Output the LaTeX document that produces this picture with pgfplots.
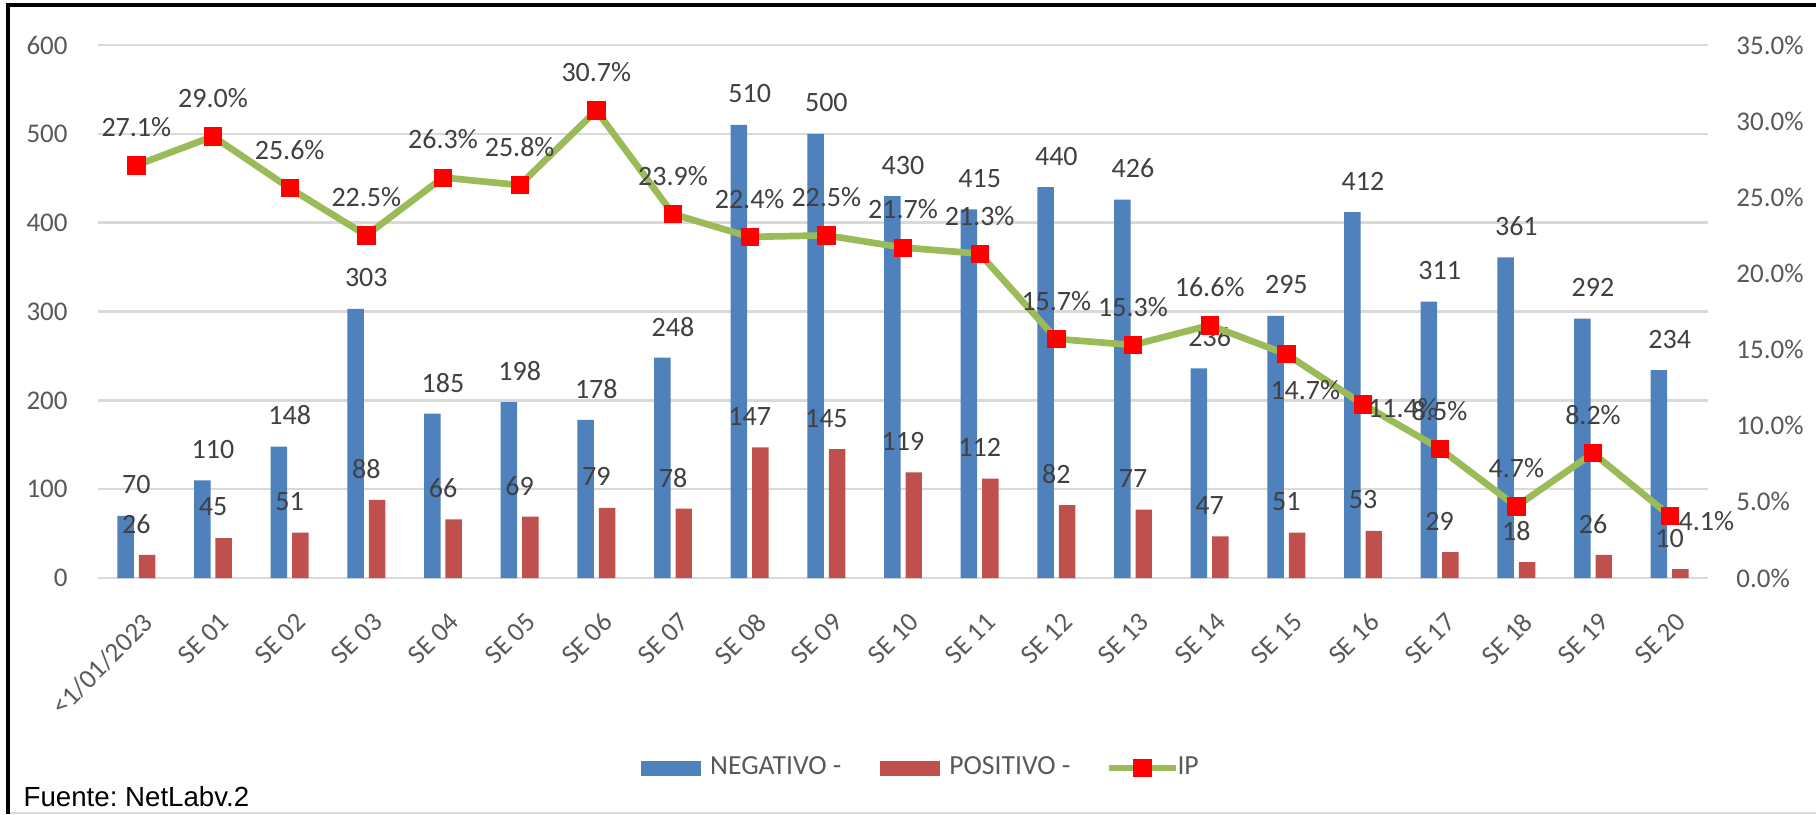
\documentclass[border=0pt]{standalone}
\usepackage{fontspec}
\setmainfont{Carlito}
\newfontfamily\arialfont{Liberation Sans}
\usepackage{pgfplots}
\usepackage{pgfplotstable}
\pgfplotsset{compat=1.18}
\definecolor{negblue}{HTML}{4F81BD}
\definecolor{posred}{HTML}{C0504D}
\definecolor{ipgreen}{HTML}{9BBB59}
\definecolor{ipred}{HTML}{FF0000}
\definecolor{gridgray}{HTML}{D9D9D9}
\definecolor{ticktext}{HTML}{595959}
\definecolor{labeltext}{HTML}{404040}
\pgfplotsset{/pgf/number format/assume math mode=true}
\pgfplotsset{
  neglegend/.style={legend image code/.code={\fill[negblue, draw=none] (0pt,-2.25pt) rectangle (18pt,2.25pt); \path[draw=none, fill=none] (0pt,0pt) -- (18.9pt,0pt);}},
  poslegend/.style={legend image code/.code={\fill[posred, draw=none] (0pt,-2.25pt) rectangle (18pt,2.25pt); \path[draw=none, fill=none] (0pt,0pt) -- (18.9pt,0pt);}},
  iplegend/.style={legend image code/.code={%
    \begin{pgfinterruptboundingbox}\draw[mark repeat=2, mark phase=2, ##1] plot coordinates {(0pt,0pt) (10pt,0pt) (20pt,0pt)};\end{pgfinterruptboundingbox}%
    \path[draw=none, fill=none] (0pt,-2.7pt) rectangle (18.6pt,2.7pt);}},
}
\frenchspacing

\pgfplotstableread{
x neg pos
0 70 26
1 110 45
2 148 51
3 303 88
4 185 66
5 198 69
6 178 79
7 248 78
8 510 147
9 500 145
10 430 119
11 415 112
12 440 82
13 426 77
14 236 47
15 295 51
16 412 53
17 311 29
18 361 18
19 292 26
20 234 10
}\bars

\pgfplotstableread{
x ip dx dy
0 27.1 0 11.4
1 29.0 0 11.4
2 25.6 0 11.4
3 22.5 0 11.4
4 26.3 0 11.4
5 25.8 0 11.4
6 30.7 0 11.4
7 23.9 0 11.4
8 22.4 0 11.4
9 22.5 0 11.4
10 21.7 0 11.4
11 21.3 0 11.4
12 15.7 0 11.4
13 15.3 0 11.4
14 16.6 0 11.4
15 14.7 5.7 -10.8
16 11.4 12 -1.2
17 8.5 0 11.4
18 4.7 0 11.4
19 8.2 0 11.4
20 4.1 11 -1.5
}\iptab

\newcommand{\tickfont}{\fontsize{8.1}{9.7}\selectfont}
\newcommand{\labfont}{\fontsize{8.4}{10}\selectfont}

\begin{document}
\begin{tikzpicture}
\useasboundingbox (-29.4pt,-70.8pt) rectangle (515.4pt,173.4pt);
\fill[white] (-29.4pt,-70.8pt) rectangle (515.4pt,173.4pt);
\draw[gridgray, line width=0.4pt] (-27pt,-70.5pt) -- (515.4pt,-70.5pt);
\draw[line width=1pt] (-27pt,-70.8pt) -- (-27pt,171.9pt) -- (515.4pt,171.9pt);
\node[anchor=west, inner sep=0pt, font=\arialfont\fontsize{8.3}{10}\selectfont] at (-22.5pt,-65.7pt) {Fuente: NetLabv.2};

\begin{axis}[
  at={(0pt,0pt)}, anchor=south west,
  scale only axis, width=483pt, height=159.9pt,
  xmin=-0.5, xmax=20.5, ymin=0, ymax=600,
  axis line style={draw=none},
  major tick length=0pt,
  ytick={0,100,...,600},
  xtick={0,...,20},
  xticklabels={<1/01/2023,SE 01,SE 02,SE 03,SE 04,SE 05,SE 06,SE 07,SE 08,SE 09,SE 10,SE 11,SE 12,SE 13,SE 14,SE 15,SE 16,SE 17,SE 18,SE 19,SE 20},
  ymajorgrids,
  grid style={draw=gridgray, line width=0.75pt},
  tick label style={font=\tickfont, text=ticktext},
  yticklabel style={xshift=-5.6pt},
  xticklabel style={xshift=1.5pt, yshift=-5pt, rotate=45, anchor=north east},
  clip=false,
]
\addplot[ybar, bar width=0.215, bar shift=-0.14, fill=negblue, draw=none,
  nodes near coords,
  every node near coord/.append style={anchor=center, yshift=9.3pt, font=\labfont, text=labeltext}]
  table[x=x, y=neg] {\bars};
\addplot[ybar, bar width=0.215, bar shift=0.14, fill=posred, draw=none,
  nodes near coords,
  every node near coord/.append style={anchor=center, yshift=9.3pt, font=\labfont, text=labeltext}]
  table[x=x, y=pos] {\bars};
\end{axis}

\begin{axis}[
  at={(0pt,0pt)}, anchor=south west,
  scale only axis, width=483pt, height=159.9pt,
  xmin=-0.5, xmax=20.5, ymin=0, ymax=35,
  axis x line=none,
  axis y line*=right,
  axis line style={draw=none},
  major tick length=0pt,
  ytick={0,5,...,35},
  yticklabel={\pgfmathprintnumber[fixed,fixed zerofill,precision=1]{\tick}\%},
  yticklabel style={font=\tickfont, text=ticktext, xshift=5pt},
  clip=false,
  legend style={draw=none, fill=none, at={(0.5124,-0.3565)}, anchor=center,
    legend columns=3, font=\fontsize{8.3}{10}\selectfont, text=ticktext,
    /tikz/every even column/.append style={column sep=9.5pt}},
  legend cell align=left,
]
\addlegendimage{neglegend}
\addlegendentry{NEGATIVO -}
\addlegendimage{poslegend}
\addlegendentry{POSITIVO -}
\addplot[ipgreen, line width=2pt, mark=square*, mark size=2.6pt,
  mark options={solid, fill=ipred, draw=ipred, line width=0.2pt},
  iplegend,
  visualization depends on={\thisrow{dx} \as \labdx},
  visualization depends on={\thisrow{dy} \as \labdy},
  nodes near coords={\pgfmathprintnumber[fixed,fixed zerofill,precision=1]{\pgfplotspointmeta}\%},
  every node near coord/.append style={anchor=center, xshift=\labdx pt, yshift=\labdy pt, font=\labfont, text=labeltext}]
  table[x=x, y=ip] {\iptab};
\addlegendentry{IP}
\end{axis}
\end{tikzpicture}
\end{document}
